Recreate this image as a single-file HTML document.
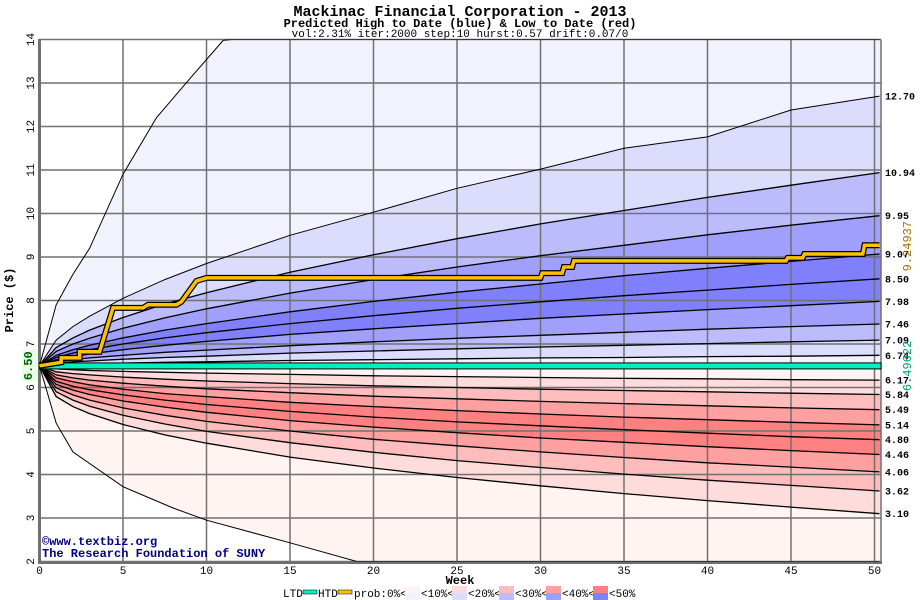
<!DOCTYPE html>
<html><head><meta charset="utf-8"><style>
body{margin:0;background:#fff;}
svg{display:block;font-family:"Liberation Mono",monospace;}
</style></head><body>
<svg id="chart" width="920" height="600" viewBox="0 0 920 600">
<defs><clipPath id="plotclip"><rect x="39.5" y="39.5" width="842" height="522"/></clipPath></defs>
<text x="460" y="16" text-anchor="middle" font-size="15" font-weight="bold">Mackinac Financial Corporation - 2013</text>
<text x="460" y="27" text-anchor="middle" font-size="12" font-weight="bold">Predicted High to Date (blue) &amp;  Low to Date (red)</text>
<text x="460" y="37" text-anchor="middle" font-size="11">vol:2.31% iter:2000 step:10 hurst:0.57 drift:0.07/0</text>
<g id="bands" clip-path="url(#plotclip)"></g>
<g id="grid"></g>
<g id="curves" clip-path="url(#plotclip)"></g>
<g id="marks"></g>
<g id="labels"></g>
<text x="0" y="0" transform="translate(13,300) rotate(-90)" text-anchor="middle" font-size="12" font-weight="bold">Price ($)</text>
<text x="460" y="584" text-anchor="middle" font-size="12" font-weight="bold">Week</text>
<text x="42" y="545" font-size="12" font-weight="bold" fill="#000080">©www.textbiz.org</text>
<text x="42" y="557" font-size="12" font-weight="bold" fill="#000080">The Research Foundation of SUNY</text>
<g id="legend"></g>
</svg>
<script>
const weeks=[0,1,2,3,5,7.5,10,15,20,25,30,35,40,45,50.3];
const upperEnds=[12.70,10.94,9.95,9.07,8.50,7.98,7.46,7.09,6.74];
const upperSeries=[
[6.50,7.09,7.40,7.64,8.05,8.48,8.85,9.50,10.03,10.58,11.02,11.50,11.76,12.38,12.70],
[6.50,6.92,7.14,7.32,7.61,7.92,8.18,8.65,9.05,9.42,9.76,10.07,10.37,10.65,10.94],
[6.50,6.83,7.00,7.13,7.36,7.60,7.81,8.17,8.48,8.77,9.03,9.27,9.51,9.73,9.95],
[6.50,6.74,6.87,6.97,7.14,7.32,7.47,7.74,7.98,8.19,8.38,8.57,8.74,8.90,9.07],
[6.50,6.69,6.79,6.87,7.00,7.14,7.26,7.47,7.65,7.82,7.97,8.11,8.24,8.37,8.50],
[6.50,6.64,6.71,6.77,6.87,6.97,7.06,7.22,7.35,7.47,7.59,7.69,7.79,7.88,7.98],
[6.50,6.59,6.64,6.68,6.74,6.81,6.86,6.96,7.05,7.13,7.20,7.27,7.34,7.40,7.46],
[6.50,6.56,6.59,6.61,6.65,6.69,6.72,6.79,6.84,6.89,6.93,6.97,7.01,7.05,7.09],
[6.50,6.52,6.53,6.54,6.56,6.58,6.59,6.62,6.64,6.66,6.68,6.69,6.71,6.72,6.74]];
const lowerEnds=[6.17,5.84,5.49,5.14,4.80,4.46,4.06,3.62,3.10];
const lowerSeries=[
[6.50,6.43,6.41,6.39,6.37,6.35,6.33,6.30,6.27,6.25,6.23,6.21,6.20,6.18,6.17],
[6.50,6.36,6.32,6.29,6.24,6.19,6.15,6.09,6.04,6.00,5.96,5.93,5.90,5.87,5.84],
[6.50,6.29,6.22,6.17,6.10,6.03,5.97,5.88,5.80,5.74,5.68,5.63,5.58,5.53,5.49],
[6.50,6.22,6.13,6.06,5.96,5.86,5.79,5.66,5.56,5.47,5.39,5.32,5.26,5.20,5.14],
[6.50,6.14,6.03,5.95,5.83,5.71,5.61,5.45,5.32,5.21,5.12,5.03,4.95,4.87,4.80],
[6.50,6.07,5.94,5.84,5.69,5.55,5.43,5.24,5.09,4.96,4.84,4.74,4.64,4.55,4.46],
[6.50,5.99,5.83,5.71,5.53,5.36,5.22,5.00,4.81,4.66,4.52,4.39,4.27,4.17,4.06],
[6.50,5.90,5.71,5.57,5.36,5.16,4.99,4.73,4.51,4.32,4.16,4.01,3.87,3.75,3.62],
[6.50,5.79,5.56,5.40,5.15,4.91,4.72,4.40,4.15,3.93,3.74,3.56,3.40,3.25,3.10]];
const maxWeeks=[0,1,2,3,5,7,9,11,11.5,50.3];
const maxValues=[6.5,7.9,8.6,9.2,10.9,12.2,13.1,13.98,14,14];
const minWeeks=[0,1,2,5,8,10,15,19,50.3];
const minValues=[6.5,5.18,4.52,3.72,3.23,2.95,2.43,2.0,2.0];
const htdWeeks=[0,1.3,1.3,2.4,2.4,3.6,4.4,6.2,6.5,8.2,8.5,9.4,10.0,30.0,30.1,31.3,31.4,31.9,32.0,44.7,44.8,45.7,45.8,49.3,49.4,50.3];
const htdValues=[6.5,6.58,6.68,6.68,6.82,6.82,7.83,7.83,7.90,7.90,7.97,8.45,8.52,8.52,8.63,8.63,8.77,8.77,8.91,8.91,8.98,8.98,9.07,9.07,9.27,9.27];
const ltdValue=6.49622;
const htdValue=9.24937;
const yTicks=[2,3,4,5,6,7,8,9,10,11,12,13,14];
const xTicks=[0,5,10,15,20,25,30,35,40,45,50];
const upColors=["#dcdcfc","#bcbcfc","#a0a0fc","#8080fc","#8080fc","#a0a0fc","#bcbcfc","#dcdcfc","#f2f2ff"];
const loColors=["#fff4f2","#ffdcdc","#ffbcbc","#ffa0a0","#ff8080","#ff8080","#ffa0a0","#ffbcbc","#ffdcdc"];
const NS="http://www.w3.org/2000/svg";
const X=w=>39.5+w*16.7, Y=p=>39.5+(14-p)*43.5;
function mk(tag,attrs,parent){const e=document.createElementNS(NS,tag);for(const k in attrs)e.setAttribute(k,attrs[k]);parent.appendChild(e);return e;}
const bands=document.getElementById('bands'),grid=document.getElementById('grid'),curves=document.getElementById('curves'),marks=document.getElementById('marks'),labels=document.getElementById('labels');
function pts(ws,vs){return ws.map((w,i)=>X(w).toFixed(1)+','+Y(vs[i]).toFixed(1)).join(' ');}
function fillPoly(ws,vs,color,name){
  const p=pts(ws,vs)+' '+X(ws[ws.length-1]+1)+','+Y(vs[vs.length-1])+' '+X(ws[ws.length-1]+1)+','+Y(6.5)+' '+X(0)+','+Y(6.5);
  const e=mk('polygon',{points:p,fill:color},bands);
  
  
}
fillPoly(maxWeeks,maxValues,"#f2f2ff",'band-upper-max');
upperSeries.forEach((s,i)=>fillPoly(weeks,s,upColors[i],'band-upper-'+i));
fillPoly(minWeeks,minValues,"#fff4f2",'band-lower-min');
mk('polygon',{points:X(19)+','+Y(2)+' '+X(51)+','+Y(2)+' '+X(51)+','+Y(6.5)+' '+X(0)+','+Y(6.5),fill:"#fff4f2"},bands);
// redraw lower in order outer->inner
[...lowerSeries].reverse().forEach((s,i)=>fillPoly(weeks,s,loColors[8-i]==="#fff4f2"?"#fff4f2":loColors[8-i],'band-lower-'+i));
// grid
yTicks.forEach(t=>{const e=mk('line',{x1:39.5,x2:881,y1:Y(t),y2:Y(t),stroke:"#707070","stroke-width":1.5},grid);


const l=mk('text',{transform:`translate(${34},${Y(t)}) rotate(-90)`,"text-anchor":"middle","font-size":11},labels);l.textContent=t;

});
xTicks.forEach(t=>{const e=mk('line',{x1:X(t),x2:X(t),y1:39.5,y2:561.5,stroke:"#707070","stroke-width":1.5},grid);


const l=mk('text',{x:X(t),y:574,"text-anchor":"middle","font-size":11},labels);l.textContent=t;

});
mk('line',{x1:39.5,x2:39.5,y1:39,y2:563,stroke:"#707070","stroke-width":3},grid);
mk('line',{x1:38,x2:882,y1:562.5,y2:562.5,stroke:"#707070","stroke-width":3},grid);
mk('line',{x1:881,x2:881,y1:39.5,y2:562,stroke:"#707070","stroke-width":1.5},grid);
// curves
function line(ws,vs,name,w){const e=mk('polyline',{points:pts(ws,vs),fill:"none",stroke:"#000","stroke-width":w},curves);

}
line(maxWeeks,maxValues,'max-high-curve',1);
upperSeries.forEach((s,i)=>line(weeks,s,'upper-percentile-'+upperEnds[i],i===0?1:1.3));
lowerSeries.forEach((s,i)=>line(weeks,s,'lower-percentile-'+lowerEnds[i],1.3));
line(minWeeks,minValues,'min-low-curve',1);
// LTD
const ltd=mk('rect',{x:39.5,y:Y(ltdValue)-3,width:841.5,height:6,fill:"#00f0c0",stroke:"#000","stroke-width":1},marks);


// HTD
const hb=mk('polyline',{points:pts(htdWeeks,htdValues),fill:"none",stroke:"#000","stroke-width":6},marks);


const hy=mk('polyline',{points:pts(htdWeeks,htdValues),fill:"none",stroke:"#ffc000","stroke-width":3.5},marks);


// right labels
upperEnds.concat(lowerEnds).forEach(v=>{const l=mk('text',{x:885,y:Y(v)+3.5,"font-size":10,"font-weight":"bold"},labels);l.textContent=v.toFixed(2);

});
const h=mk('text',{transform:`translate(911,${Y(htdValue)}) rotate(-90)`,"text-anchor":"middle","font-size":12,fill:"#a07000"},labels);h.textContent=htdValue;


const lt=mk('text',{transform:`translate(911,${Y(ltdValue)}) rotate(-90)`,"text-anchor":"middle","font-size":12,fill:"#00a070"},labels);lt.textContent=ltdValue;


mk('rect',{x:22,y:Y(6.5)-16,width:16,height:32,fill:"#e8ffe8"},labels);
const st=mk('text',{transform:`translate(32,${Y(6.5)}) rotate(-90)`,"text-anchor":"middle","font-size":12,"font-weight":"bold",fill:"#006000"},labels);st.textContent="6.50";


// legend
const lg=document.getElementById('legend');
function lt_(x,s){const t=mk('text',{x:x,y:597,"font-size":11},lg);t.textContent=s;return t;}
lt_(283,"LTD");mk('rect',{x:303,y:590,width:14,height:4,fill:"#00f0c0",stroke:"#000","stroke-width":0.5},lg);
lt_(318,"HTD");mk('rect',{x:338,y:590,width:14,height:4,fill:"#ffc000",stroke:"#000","stroke-width":0.5},lg);
lt_(354,"prob:0%<");
const legUp=["#f2f2ff","#dcdcfc","#bcbcfc","#a0a0fc","#8080fc"],legLo=["#fff4f2","#ffdcdc","#ffbcbc","#ffa0a0","#ff8080"],legTx=["<10%<","<20%<","<30%<","<40%<","<50%"];
for(let i=0;i<5;i++){const x=405+i*47;mk('rect',{x:x,y:586,width:15,height:7,fill:legLo[i]},lg);mk('rect',{x:x,y:593,width:15,height:7,fill:legUp[i]},lg);lt_(x+16,legTx[i]);}
</script>
</body></html>
